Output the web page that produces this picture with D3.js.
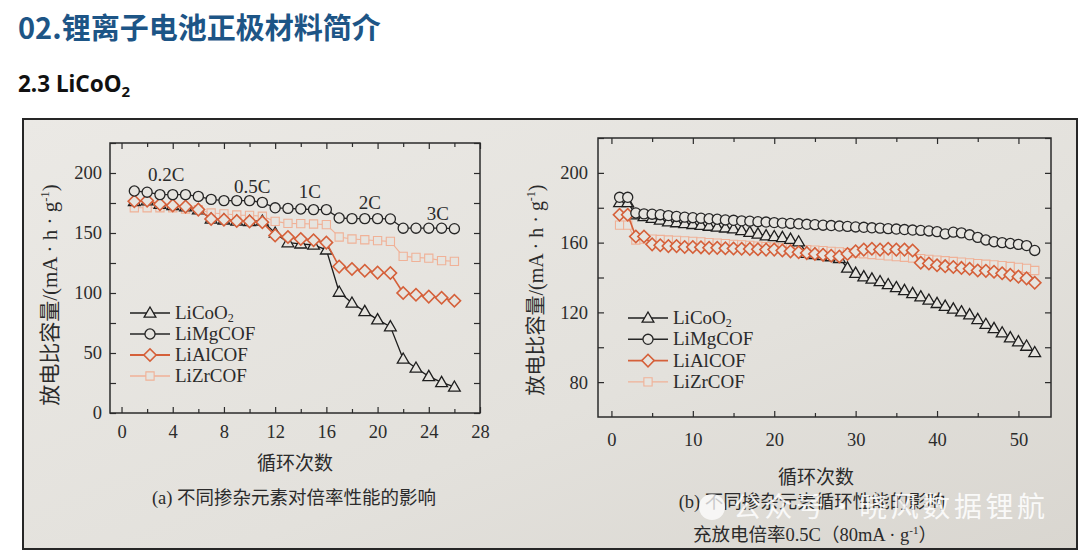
<!DOCTYPE html>
<html><head><meta charset="utf-8">
<script src="https://cdn.jsdelivr.net/npm/d3@7"></script>
<style>body{margin:0;background:#fff;} svg{display:block}</style>
</head><body><svg id="c" width="1080" height="551"></svg>
<script>
// ---------- DATA ----------
const seriesNames = ["LiCoO2","LiMgCOF","LiAlCOF","LiZrCOF"];
// (a) rate performance
const cyclesA = [1,2,3,4,5,6,7,8,9,10,11,12,13,14,15,16,17,18,19,20,21,22,23,24,25,26];
const aLiCoO2  = [176.4,177,174,173,172,169.5,161.7,161,160,159.7,160,150,142,141,140,136,100.8,91.7,84.7,77.8,72,45,37.5,30.5,25.5,21.7];
const aLiMgCOF = [185,184,182,182,182,180.5,178,177,177,177,175.5,171,170.5,170,169.5,169.5,162.5,162,162,162,161.7,154,154,154,154,153.6];
const aLiAlCOF = [176.4,177,174,173,172,169.5,161.7,161,160,159.7,159,148,146.7,145,144,142,122,120,118.6,117,116.7,100,98.6,97,96,93.6];
const aLiZrCOF = [171,171,171,171,170,169.5,166.7,166,165,164.7,164,159.7,158,157.8,157.5,157,146.7,145,144.4,143.6,143,130.5,129.7,129,127,126.4];
const rateLabels = ["0.2C","0.5C","1C","2C","3C"];
const rateLabelX = [3.5,10.2,14.7,19.4,24.7];
const rateLabelY = [193,183,179,170,161];
const xTicksA = [0,4,8,12,16,20,24,28];
const yTicksA = [0,50,100,150,200];
// (b) cycle performance
const cyclesB = [1,2,3,4,5,6,7,8,9,10,11,12,13,14,15,16,17,18,19,20,21,22,23,24,25,26,27,28,29,30,31,32,33,34,35,36,37,38,39,40,41,42,43,44,45,46,47,48,49,50,51,52];
const bLiCoO2  = [183,183,176,175,174,173,172,171.5,171,170.5,170,169.5,169,168.5,168,167,166,165,164,163.5,163,162,160.5,154,153.3,152.7,152,151,145.5,142.5,140.5,139.2,137.7,136,134.3,132.6,130.9,129,127.1,125.2,123.6,122,120.4,118.7,116,113.2,110.8,108.3,105.5,103.2,100.7,97];
const bLiMgCOF = [186,186,177,176.5,176.3,176,175.5,175,174.6,174.3,174,173.7,173.4,173,172.8,172.5,172.3,172,171.8,171.5,171.2,171,170.8,170.5,170.3,170,169.8,169.5,169.3,169,168.8,168.5,168.3,168,167.8,167.5,167.2,167,166.7,166.3,165,166,165.6,164.5,163,161.5,160.5,160,159.5,159,158.3,155.5];
const bLiAlCOF = [176,176,163.5,163.5,159,158.5,158,158,157.5,157.5,157.3,157,157,156.8,156.6,156.5,156.4,156.2,156,156,155.5,155,154.5,154,153.5,153,152.5,152,153.5,155,156,156.5,156,156.5,156,156,155.5,148.5,148,147,146.5,146,145.5,145,144,143.8,143.3,142.4,141.5,140.5,139.5,137];
const bLiZrCOF = [170,170,161.5,162,162,161.8,161.5,161.3,161,160.7,160.4,160,159.7,159.4,159,158.7,158.4,158,157.7,157.4,157,156.7,156.4,156,155.7,155.4,155,154.7,154.3,154,153.6,153.2,152.8,152.4,152,151.6,151.2,150.8,150.4,150,149.6,149.2,148.8,148.4,148,147.6,147.2,146.8,146.3,145.8,145.2,144];
const xTicksB = [0,10,20,30,40,50];
const yTicksB = [80,120,160,200];

// ---------- STYLE ----------
const ink = "#2b2b2b";
const styles = {
  LiCoO2:  {stroke:"#1e1e1e", sym:"tri",  sw:1.3},
  LiMgCOF: {stroke:"#262626", sym:"circ", sw:1.3},
  LiAlCOF: {stroke:"#d5603a", sym:"dia",  sw:1.6},
  LiZrCOF: {stroke:"#f0b197", sym:"sq",   sw:1.1}
};
const serif = "'Liberation Serif','Times New Roman','Noto Sans CJK SC',serif";
const cjk = "'Liberation Serif','Noto Sans CJK SC',sans-serif";

const svg = d3.select("#c");
const defs = svg.append("defs");
const g = defs.append("linearGradient").attr("id","paper").attr("x1","0").attr("y1","0").attr("x2","1").attr("y2","1");
g.append("stop").attr("offset","0").attr("stop-color","#ebe9e5");
g.append("stop").attr("offset","0.6").attr("stop-color","#e3e1dc");
g.append("stop").attr("offset","1").attr("stop-color","#d9d6d0");

// slide title
svg.append("text").attr("x",18).attr("y",39).attr("fill","#1d5586")
  .attr("font-family","'Noto Sans CJK SC','Noto Sans',sans-serif").attr("font-weight","bold")
  .attr("font-size",29).text("02.锂离子电池正极材料简介");
const sub = svg.append("text").attr("x",18).attr("y",92).attr("fill","#111")
  .attr("font-family","'Noto Sans','Open Sans',sans-serif").attr("font-weight","bold").attr("font-size",22.5);
sub.append("tspan").text("2.3 LiCoO");
sub.append("tspan").attr("font-size",15).attr("dy",5).text("2");

// photo frame
svg.append("rect").attr("x",23).attr("y",119).attr("width",1054).attr("height",430)
  .attr("fill","url(#paper)").attr("stroke","#262626").attr("stroke-width",2);

function symPath(kind, size){
  if(kind==="circ") return d3.symbol(d3.symbolCircle, size)();
  if(kind==="tri") return d3.symbol(d3.symbolTriangle, size*0.75)();
  if(kind==="sq") return d3.symbol(d3.symbolSquare, size*0.85)();
  if(kind==="dia") return d3.symbol(d3.symbolSquare, size*0.95)();
}
function drawSymbol(sel, kind, size, st, x, y){
  const p = sel.append("path").attr("d",symPath(kind,size))
    .attr("fill","#e6e4df").attr("stroke",st.stroke).attr("stroke-width",st.sw);
  let tr = `translate(${x},${y})`;
  if(kind==="dia") tr += " rotate(45)";
  if(kind==="tri") tr += " translate(0,0.8)";
  p.attr("transform",tr);
}

function panel(opt){
  const {x, y, xTicks, xMinor, yTicks, yMinor, data, cycles, legendX, legendY, legendDy, msize} = opt;
  const root = svg.append("g");
  const [x0,x1] = x.range(), [y0,y1] = y.range();
  root.append("g").attr("transform",`translate(0,${y0})`)
    .call(d3.axisBottom(x).tickValues(xTicks).tickSize(-6).tickPadding(opt.xPad).tickFormat(d3.format("d")));
  root.append("g").attr("transform",`translate(0,${y0})`)
    .call(d3.axisBottom(x).tickValues(xMinor).tickSize(-4).tickFormat(""));
  root.append("g").attr("transform",`translate(0,${y1})`)
    .call(d3.axisTop(x).tickValues(xTicks).tickSize(-6).tickFormat(""));
  root.append("g").attr("transform",`translate(0,${y1})`)
    .call(d3.axisTop(x).tickValues(xMinor).tickSize(-4).tickFormat(""));
  root.append("g").attr("transform",`translate(${x0},0)`)
    .call(d3.axisLeft(y).tickValues(yTicks).tickSize(-6).tickPadding(opt.yPad).tickFormat(d3.format("d")));
  root.append("g").attr("transform",`translate(${x0},0)`)
    .call(d3.axisLeft(y).tickValues(yMinor).tickSize(-6).tickFormat(""));
  root.append("g").attr("transform",`translate(${x1},0)`)
    .call(d3.axisRight(y).tickValues(yTicks.concat(yMinor)).tickSize(-6).tickFormat(""));
  root.selectAll(".domain").remove();
  root.selectAll(".tick line").attr("stroke",ink).attr("stroke-width",1.2);
  root.selectAll(".tick text").attr("fill",ink).attr("font-family",serif).attr("font-size",18.5);
  root.append("rect").attr("x",x0).attr("y",y1).attr("width",x1-x0).attr("height",y0-y1)
    .attr("fill","none").attr("stroke",ink).attr("stroke-width",1.5);

  const line = d3.line().x((d,i)=>x(cycles[i])).y(d=>y(d));
  const order = ["LiZrCOF","LiCoO2","LiAlCOF","LiMgCOF"];
  order.forEach(name=>{
    const st = styles[name];
    const vals = data[name];
    const sg = root.append("g");
    sg.append("path").attr("d",line(vals)).attr("fill","none").attr("stroke",st.stroke).attr("stroke-width",st.sw);
    vals.forEach((v,i)=>drawSymbol(sg, st.sym, msize, st, x(cycles[i]), y(v)));
  });

  // legend
  seriesNames.forEach((name,i)=>{
    const st = styles[name];
    const ly = legendY + i*legendDy;
    root.append("line").attr("x1",legendX).attr("x2",legendX+40).attr("y1",ly).attr("y2",ly)
      .attr("stroke",st.stroke).attr("stroke-width",st.sw+0.2);
    drawSymbol(root, st.sym, msize, st, legendX+20, ly);
    const t = root.append("text").attr("x",legendX+45).attr("y",ly+6).attr("fill",ink)
      .attr("font-family",serif).attr("font-size",19);
    if(name==="LiCoO2"){ t.append("tspan").text("LiCoO"); t.append("tspan").attr("font-size",12).attr("dy",3).text("2"); }
    else t.text(name);
  });
  return root;
}

function yLabel(cx, cy, fs){
  const t = svg.append("text").attr("transform",`translate(${cx},${cy}) rotate(-90)`)
    .attr("text-anchor","middle").attr("fill",ink).attr("font-family",cjk).attr("font-size",fs);
  t.append("tspan").text("放电比容量/(mA · h · g");
  t.append("tspan").attr("font-size",fs*0.6).attr("dy",-8).text("-1");
  t.append("tspan").attr("dy",8).text(")");
}

// ----- panel (a) -----
const xA = d3.scaleLinear().domain([-0.9,28]).range([110,480]);
const yA = d3.scaleLinear().domain([0,225]).range([413,143]);
const pA = panel({x:xA, y:yA, xTicks:xTicksA, xMinor:[2,6,10,14,18,22,26], yTicks:yTicksA, yMinor:[25,75,125,175,225],
  data:{LiCoO2:aLiCoO2, LiMgCOF:aLiMgCOF, LiAlCOF:aLiAlCOF, LiZrCOF:aLiZrCOF}, cycles:cyclesA,
  legendX:130, legendY:313, legendDy:21, msize:80, xPad:12, yPad:8});
rateLabels.forEach((r,i)=>{
  pA.append("text").attr("x",xA(rateLabelX[i])).attr("y",yA(rateLabelY[i])).attr("text-anchor","middle")
    .attr("fill",ink).attr("font-family",serif).attr("font-size",19).text(r);
});
yLabel(57, 295, 21);
svg.append("text").attr("x",295).attr("y",470).attr("text-anchor","middle").attr("fill",ink)
  .attr("font-family",cjk).attr("font-size",19).text("循环次数");
svg.append("text").attr("x",294).attr("y",504).attr("text-anchor","middle").attr("fill",ink)
  .attr("font-family",cjk).attr("font-size",18.5).text("(a) 不同掺杂元素对倍率性能的影响");

// ----- panel (b) -----
const xB = d3.scaleLinear().domain([-1.65,54]).range([598,1051]);
const yB = d3.scaleLinear().domain([60,220]).range([417,138]);
panel({x:xB, y:yB, xTicks:xTicksB, xMinor:[5,15,25,35,45], yTicks:yTicksB, yMinor:[100,140,180,220],
  data:{LiCoO2:bLiCoO2, LiMgCOF:bLiMgCOF, LiAlCOF:bLiAlCOF, LiZrCOF:bLiZrCOF}, cycles:cyclesB,
  legendX:628, legendY:318, legendDy:21.3, msize:80, xPad:16, yPad:10});
yLabel(543, 290, 20);
svg.append("text").attr("x",816).attr("y",484).attr("text-anchor","middle").attr("fill",ink)
  .attr("font-family",cjk).attr("font-size",19).text("循环次数");
svg.append("text").attr("x",812).attr("y",508).attr("text-anchor","middle").attr("fill",ink)
  .attr("font-family",cjk).attr("font-size",18.5).text("(b) 不同掺杂元素循环性能的影响");
const l2 = svg.append("text").attr("x",815).attr("y",541).attr("text-anchor","middle").attr("fill",ink)
  .attr("font-family",cjk).attr("font-size",18.5);
l2.append("tspan").text("充放电倍率0.5C（80mA · g");
l2.append("tspan").attr("font-size",11).attr("dy",-7).text("-1");
l2.append("tspan").attr("dy",7).text("）");

// watermark
svg.append("circle").attr("cx",712).attr("cy",507).attr("r",13).attr("fill","#ffffff").attr("opacity",0.75);
svg.append("text").attr("x",733).attr("y",517).attr("fill","#ffffff").attr("opacity",0.85)
  .attr("font-family","'Noto Sans CJK SC',sans-serif").attr("font-size",28)
  .attr("textLength",312).attr("lengthAdjust","spacing").text("公众号·晓风数据锂航");
</script></body></html>
